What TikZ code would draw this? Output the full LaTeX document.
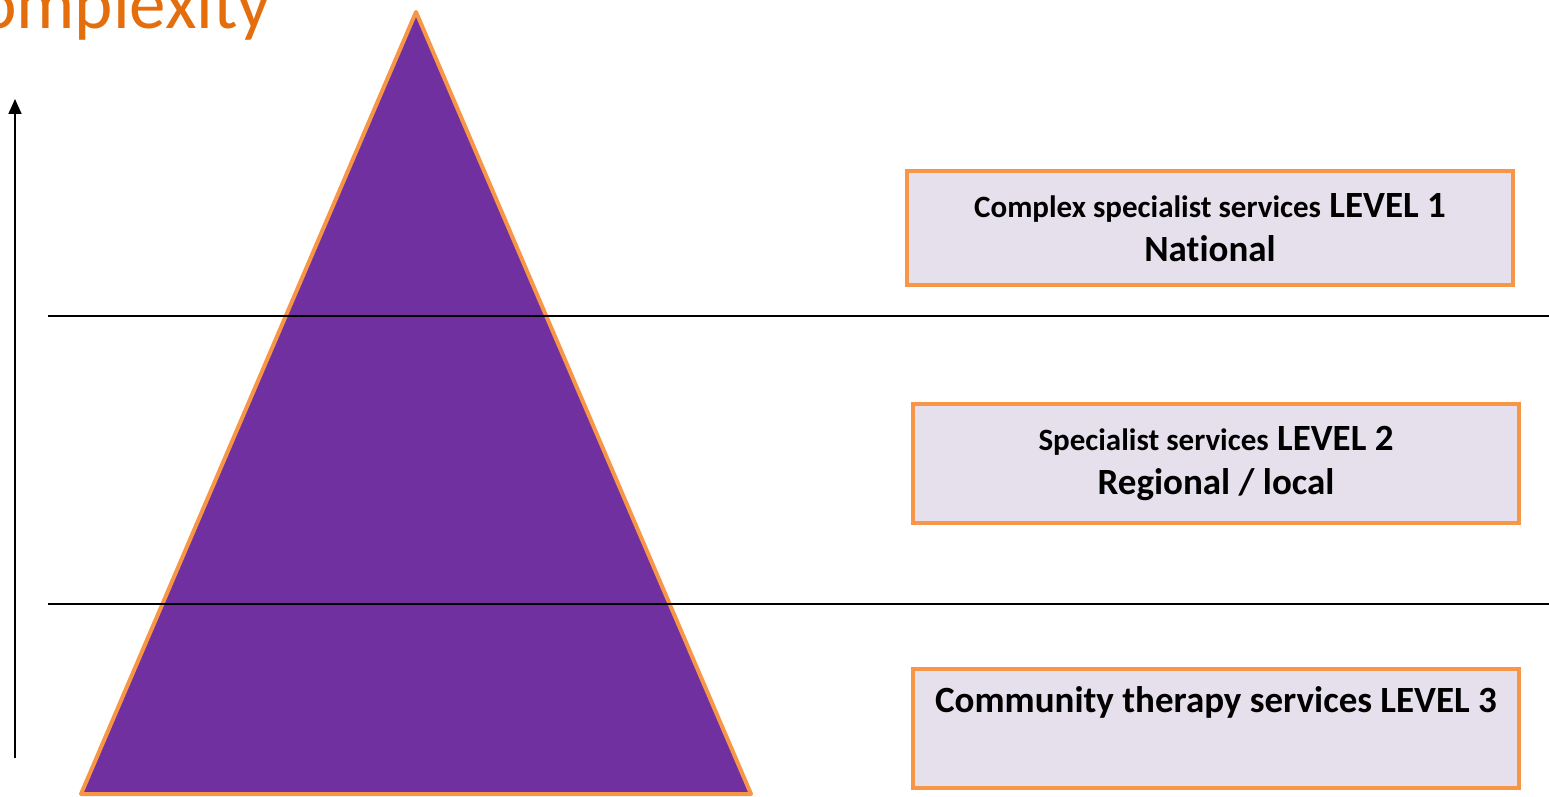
\documentclass[tikz,border=0pt]{standalone}
\usepackage{fontspec}
\setmainfont{Carlito}[Ligatures=NoCommon]
\usetikzlibrary{positioning, arrows.meta}

\definecolor{pyramidfill}{RGB}{112,48,160}
\definecolor{rim}{RGB}{247,150,70}
\definecolor{boxfill}{RGB}{229,224,236}
\definecolor{titleorange}{RGB}{228,110,12}

\begin{document}
\begin{tikzpicture}[x=1pt,y=-1pt,
  levelbox/.style={draw=rim, fill=boxfill, line width=4pt, minimum width=606pt,
    minimum height=119pt, inner sep=0pt, align=center,
    font=\bfseries\fontsize{37}{44}\selectfont},
  divider/.style={line width=1.5pt}]
  \useasboundingbox (0,0) rectangle (1549,797);

  % Pyramid corners
  \coordinate (top) at (416,12);
  \coordinate (left) at (81,794);
  \coordinate (right) at (751,794);

  % Draw pyramid
  \fill[pyramidfill] (top) -- (left) -- (right) -- cycle;
  \draw[rim,line width=4pt,line join=round] (top) -- (left) -- (right) -- cycle;

  % Level dividers
  \coordinate (d1a) at (48,316);
  \coordinate (d1b) at (1549,316);
  \coordinate (d2a) at (48,604);
  \coordinate (d2b) at (1549,604);
  \draw[divider] (d1a) -- (d1b);
  \draw[divider] (d2a) -- (d2b);

  % Complexity axis
  \coordinate (axisfoot) at (15,758);
  \coordinate (axishead) at (15,99);
  \draw[line width=1.8pt,-{Triangle[length=15pt,width=13pt]}] (axisfoot) -- (axishead);
  \node[anchor=base west,text=titleorange,inner sep=0pt,
    font=\fontsize{73}{80}\selectfont] (title) at (-61,29) {Complexity};

  % Service levels
  \node[levelbox,minimum height=114pt] (level1) at (1210,228)
    {{\fontsize{31}{44}\selectfont Complex specialist services} LEVEL 1\\National};
  \node[levelbox] (level2) at (1216,463.5)
    {{\fontsize{31}{44}\selectfont Specialist services} LEVEL 2\\Regional / local};
  \node[levelbox] (level3) at (1216,728.5)
    {Community therapy services LEVEL 3\\\strut};
\end{tikzpicture}
\end{document}
